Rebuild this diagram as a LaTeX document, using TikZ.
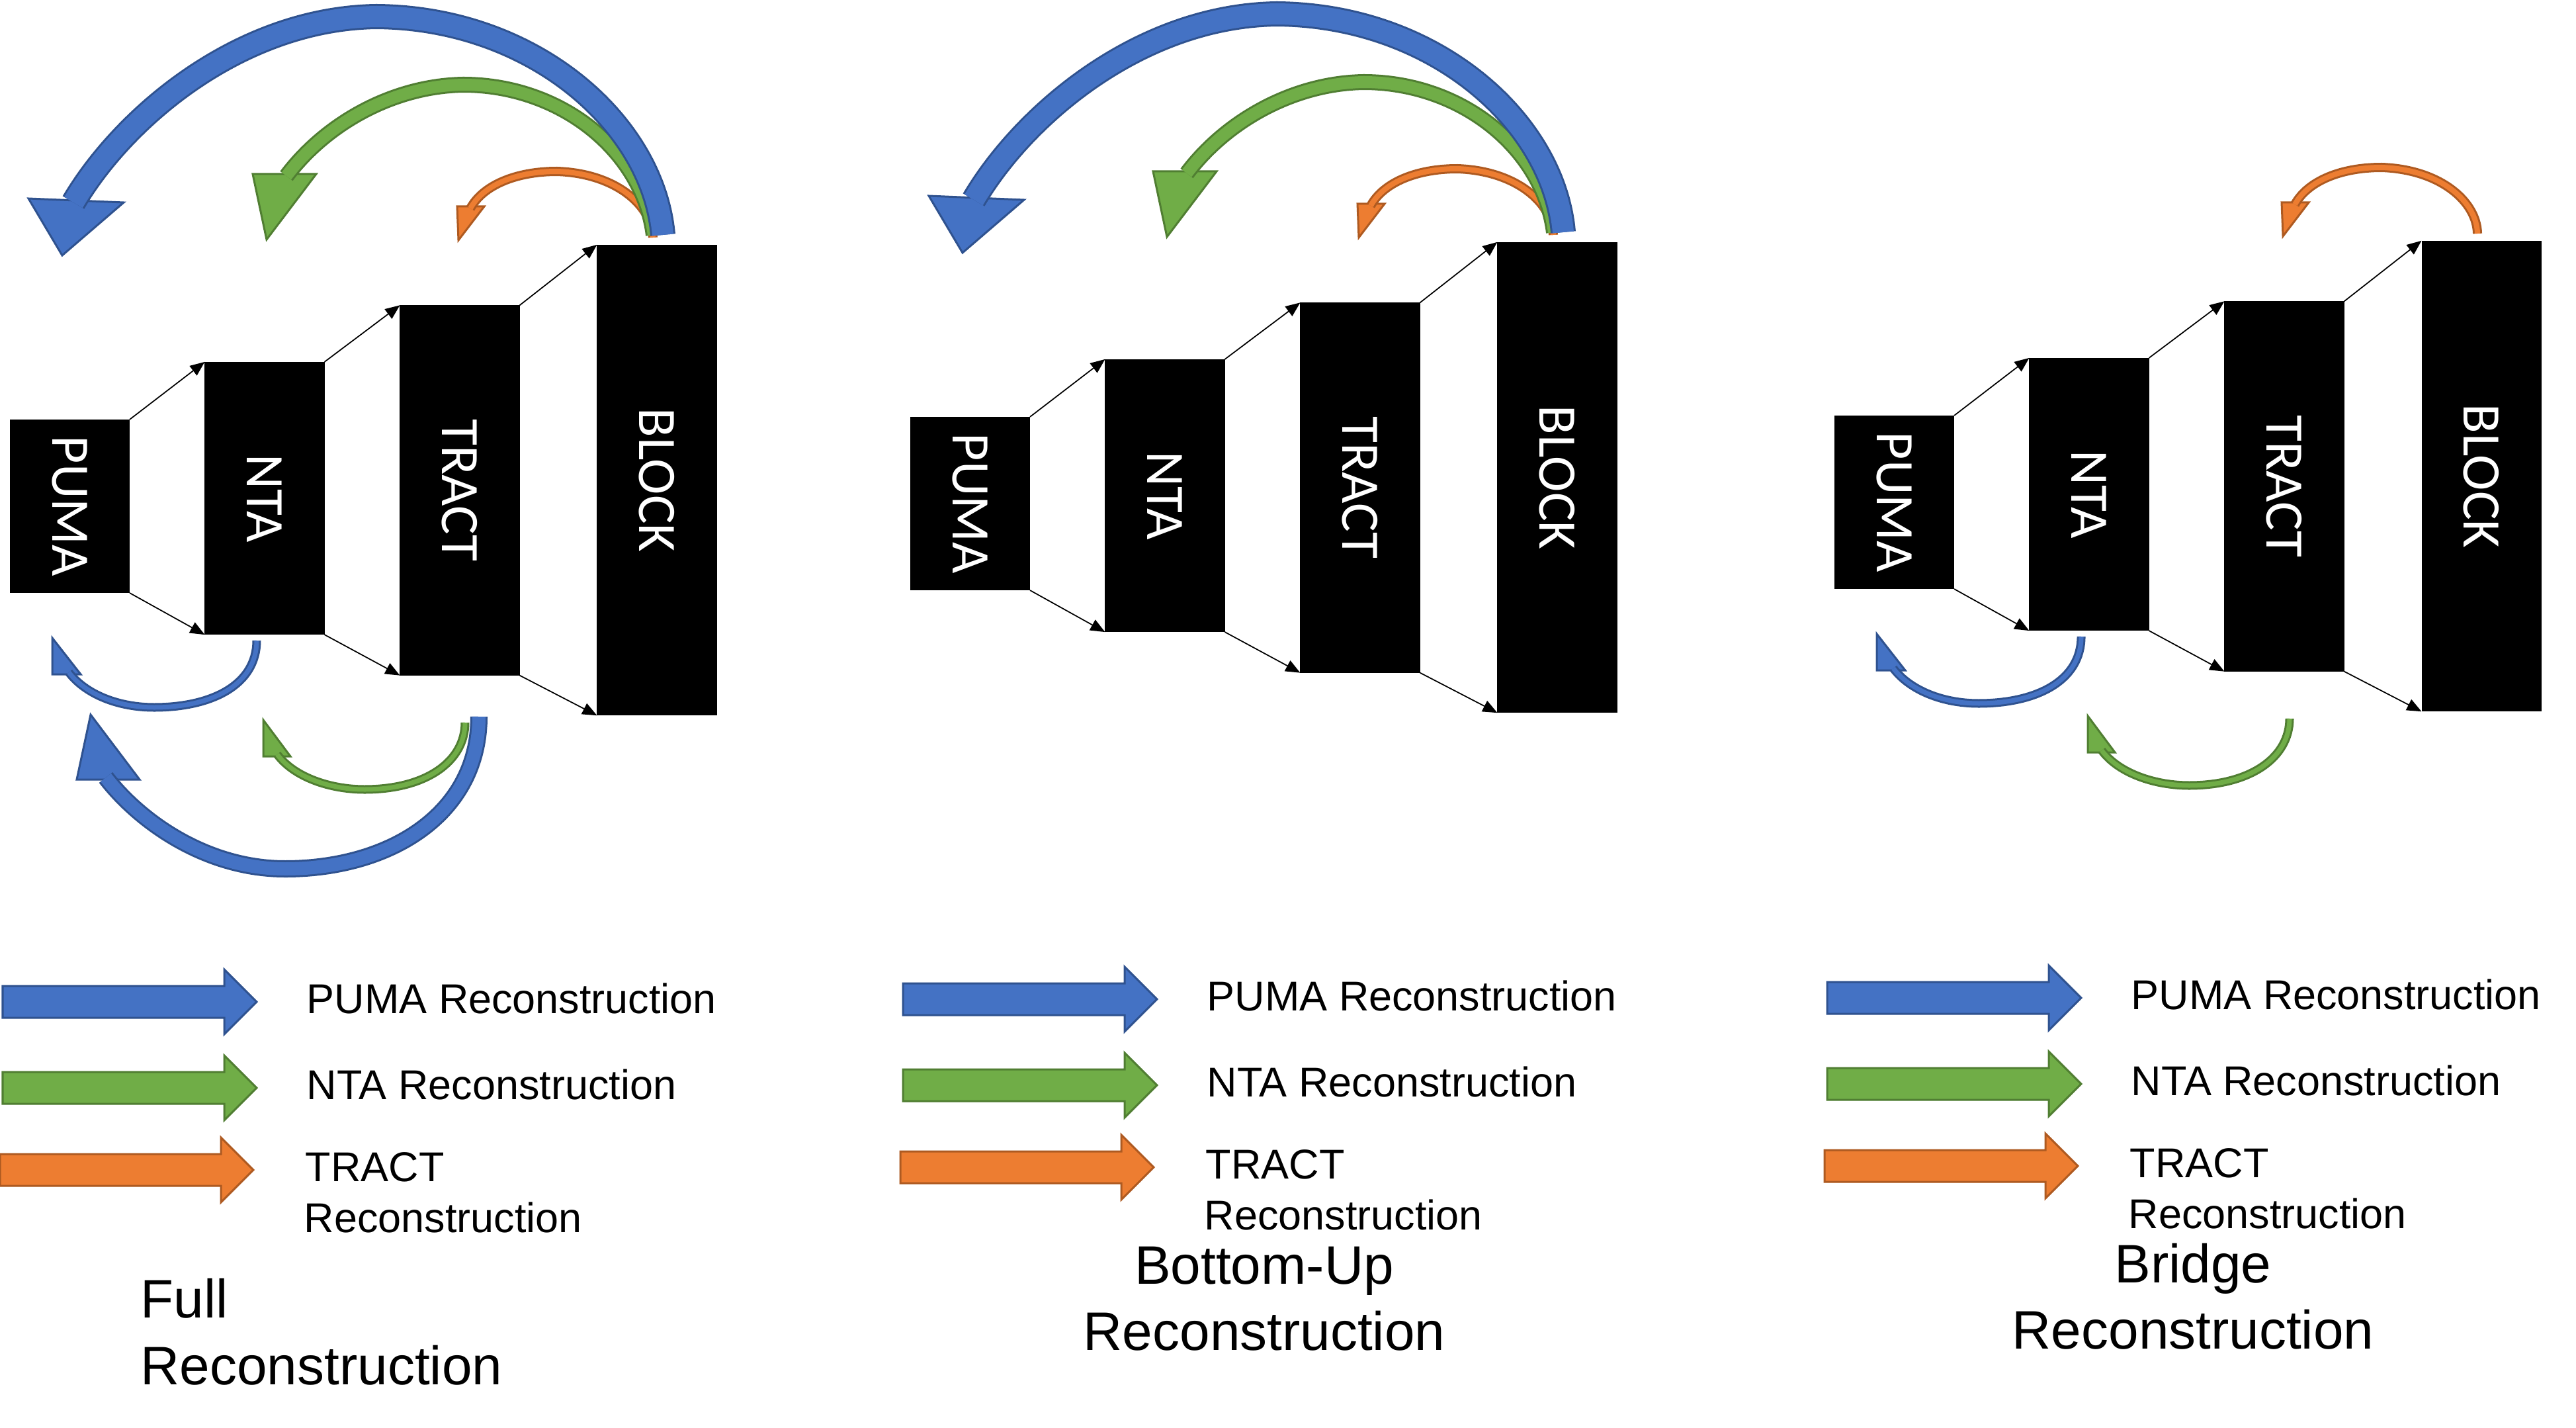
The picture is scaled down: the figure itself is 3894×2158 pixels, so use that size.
\documentclass[tikz,border=0pt]{standalone}
\usepackage{fontspec}
\setmainfont{Liberation Sans}
\newfontfamily\layerfont{Carlito}
\usetikzlibrary{arrows.meta}

\definecolor{pumafill}{HTML}{4472C4}
\definecolor{pumaline}{HTML}{2F528F}
\definecolor{ntafill}{HTML}{70AD47}
\definecolor{ntaline}{HTML}{507E32}
\definecolor{tractfill}{HTML}{ED7D31}
\definecolor{tractline}{HTML}{AE5A21}

\tikzset{
  layer/.style={fill=black, inner sep=0pt, outer sep=0pt, minimum width=1.81cm,
    text=white, font=\layerfont\fontsize{23.3}{28}\selectfont},
  link/.style={-{Triangle[length=0.22cm,width=0.18cm]}, line width=0.5pt},
  band/.style 2 args={line width=0.03cm, draw=#1line, double=#1fill, double distance=#2},
  swatch/.style={fill=#1fill, draw=#1line, line width=0.03cm, line join=miter},
  key/.style={anchor=base west, inner sep=0pt, font=\fontsize{17.9}{21.9}\selectfont},
  title/.style={inner sep=0pt, font=\fontsize{23.3}{28}\selectfont},
}

% legend arrow: colour, left end, middle height, tip
\newcommand{\keyarrow}[4]{%
  \draw[swatch=#1] (#2,#3-24) -- (#4-49,#3-24) -- (#4-49,#3-49) -- (#4,#3)
    -- (#4-49,#3+49) -- (#4-49,#3+24) -- (#2,#3+24) -- cycle;}

% reconstruction arcs over the layers
\newcommand{\pumaTop}{%
  \draw[swatch=puma] (43,300) -- (187,306) -- (94,386) -- cycle;
  \draw[band={puma}{0.32cm}] (1002,355) .. controls (988,190) and (810,27) .. (569,25)
    .. controls (360,28) and (185,180) .. (111,306);}
\newcommand{\ntaTop}{%
  \draw[swatch=nta] (382,263) -- (478,263) -- (403,362) -- cycle;
  \draw[band={nta}{0.18cm}] (988,355) .. controls (972,230) and (850,128) .. (700,128)
    .. controls (590,130) and (490,190) .. (433,266);}
\newcommand{\tractTop}{%
  \draw[swatch=tract] (691,312) -- (732,312) -- (693,363) -- cycle;
  \draw[band={tract}{0.08cm}] (987,359) .. controls (986,310) and (930,262) .. (842,259)
    .. controls (780,259) and (730,280) .. (711,315);}

% reconstruction arcs under the layers
\newcommand{\pumaLow}{%
  \draw[swatch=puma] (79,964) -- (79,1019) -- (122,1019) -- cycle;
  \draw[band={puma}{0.07cm}] (388,968) .. controls (388,1035) and (320,1069) .. (233,1069)
    .. controls (180,1069) and (130,1050) .. (104,1016);}
\newcommand{\ntaLow}{%
  \draw[swatch=nta] (398,1088) -- (398,1143) -- (439,1143) -- cycle;
  \draw[band={nta}{0.07cm}] (703,1092) .. controls (703,1150) and (645,1193) .. (551,1193)
    .. controls (500,1193) and (445,1175) .. (419,1140);}
\newcommand{\pumaWide}{%
  \draw[swatch=puma] (137,1080) -- (116,1178) -- (211,1178) -- cycle;
  \draw[band={puma}{0.20cm}] (724,1083) .. controls (724,1230) and (590,1313) .. (431,1313)
    .. controls (310,1313) and (210,1240) .. (160,1175);}

\begin{document}
\begin{tikzpicture}[x=0.01cm, y=-0.01cm]
  \useasboundingbox (0,0) rectangle (3894,2158);

  % three panels: layers, links and legend
  \foreach \i/\dx/\dy in {1/0/0, 2/1361/-4, 3/2758/-6}{
    \begin{scope}[shift={(\dx,\dy)}]
      % layers
      \node[layer, minimum height=2.62cm] (puma\i) at (105.5,765) {\rotatebox{-90}{PUMA}};
      \node[layer, minimum height=4.12cm] (nta\i) at (400,753) {\rotatebox{-90}{NTA}};
      \node[layer, minimum height=5.59cm] (tract\i) at (695,741) {\rotatebox{-90}{TRACT}};
      \node[layer, minimum height=7.11cm] (block\i) at (993,725.5) {\rotatebox{-90}{BLOCK}};

      % links
      \draw[link] (puma\i.north east) -- (nta\i.north west);
      \draw[link] (puma\i.south east) -- (nta\i.south west);
      \draw[link] (nta\i.north east) -- (tract\i.north west);
      \draw[link] (nta\i.south east) -- (tract\i.south west);
      \draw[link] (tract\i.north east) -- (block\i.north west);
      \draw[link] (tract\i.south east) -- (block\i.south west);

      % legend
      \keyarrow{puma}{4}{1514}{388}
      \keyarrow{nta}{4}{1644}{388}
      \keyarrow{tract}{0}{1768}{383}
      \node[key] (keyp\i) at (463,1531) {PUMA Reconstruction};
      \node[key] (keyn\i) at (463,1661) {NTA Reconstruction};
      \node[key] (keyt\i) at (461,1785) {TRACT};
      \node[key] (keyr\i) at (459,1862) {Reconstruction};
    \end{scope}
  }

  % Full
  \begin{scope}
    \tractTop
    \ntaTop
    \pumaTop
    \pumaLow
    \ntaLow
    \pumaWide
  \end{scope}

  % Bottom-Up
  \begin{scope}[shift={(1361,-4)}]
    \tractTop
    \ntaTop
    \pumaTop
  \end{scope}

  % Bridge
  \begin{scope}[shift={(2758,-6)}]
    \tractTop
    \pumaLow
    \ntaLow
  \end{scope}

  % titles
  \node[title, anchor=base west] (full1) at (212,1991) {Full};
  \node[title, anchor=base west] (full2) at (212,2092) {Reconstruction};
  \node[title, anchor=base] (bottomup1) at (1911,1940) {Bottom-Up};
  \node[title, anchor=base] (bottomup2) at (1911,2040) {Reconstruction};
  \node[title, anchor=base] (bridge1) at (3315,1938) {Bridge};
  \node[title, anchor=base] (bridge2) at (3315,2038) {Reconstruction};
\end{tikzpicture}
\end{document}
